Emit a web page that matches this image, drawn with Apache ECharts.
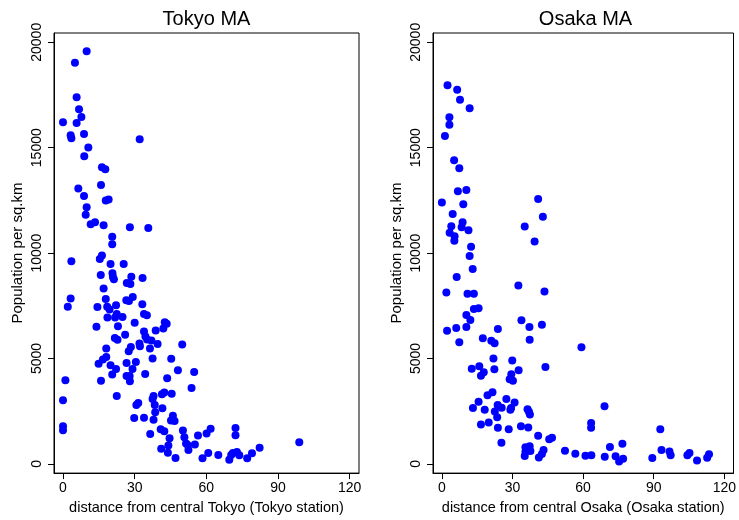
<!DOCTYPE html>
<html><head><meta charset="utf-8">
<script src="https://cdn.jsdelivr.net/npm/echarts@6/dist/echarts.min.js"></script>
<style>html,body{margin:0;padding:0;background:#fff}#c{width:739px;height:520px}</style>
</head><body><div id="c"></div>
<script>
const tokyoDist = [9.9,5.0,5.7,6.7,7.7,0.0,5.7,3.2,3.5,8.8,32.1,10.6,8.9,16.3,17.7,15.9,6.4,8.8,17.9,19.1,9.9,9.5,11.6,13.4,17.0,28.0,35.7,20.6,20.6,15.4,16.3,3.5,19.9,25.4,15.8,20.7,20.9,21.3,28.6,33.3,26.7,28.2,17.0,17.9,26.5,27.6,29.2,33.2,14.4,2.0,3.2,22.2,18.5,19.5,22.5,33.9,35.1,18.6,21.8,24.9,30.0,42.6,43.4,14.0,23.0,42.0,38.8,33.9,34.5,26.0,21.7,22.8,35.2,37.0,32.0,28.4,32.2,39.6,49.9,18.1,36.4,27.5,37.5,45.3,18.1,16.7,14.9,19.9,26.6,30.5,22.2,29.1,20.6,26.6,27.9,34.4,48.1,54.9,1.0,15.9,28.0,43.6,53.8,22.5,0.0,37.9,37.5,41.4,42.4,45.5,38.4,30.7,31.5,41.6,38.6,46.0,45.2,46.7,29.8,33.9,37.9,0.0,0.0,40.9,42.4,50.2,61.8,60.1,72.2,72.2,36.5,50.8,56.5,44.6,51.5,55.2,44.1,52.5,41.1,43.9,47.1,58.4,60.8,65.0,69.6,70.4,71.1,72.8,73.8,77.1,79.1,82.3,98.9,52.3];
const tokyoDens = [19575,19030,17390,16820,16460,16210,16170,15590,15450,15650,15400,15010,14600,14070,13980,13230,13070,12710,12490,12540,12180,11820,11370,11460,11320,11225,11195,10770,10420,9723,9882,9615,9480,9480,8960,9040,8870,8760,8880,8818,8584,8530,8318,7818,7765,7730,7920,7575,7442,7458,7849,7528,7458,7325,7114,7114,7051,6942,6942,6965,6700,6715,6645,6504,6528,6426,6325,6278,6045,6130,5975,5885,5900,5860,5715,5550,5582,5690,5670,5480,5472,5347,5003,4988,5066,4956,4753,4675,4784,4831,4503,4503,4237,4175,4175,4268,4440,4362,3971,3940,3924,4065,3596,3221,3018,3221,3080,3299,3393,3330,2799,2799,2893,2642,2455,2283,2064,2033,2173,2189,2095,1782,1595,1642,1548,1579,1673,1438,1704,1360,1423,1266,1345,1220,969,922,876,657,719,532,281,266,516,422,203,422,516,563,407,266,500,766,1032,890];
const osakaDist = [2.4,6.5,7.7,11.8,3.2,3.2,1.3,5.2,7.4,6.8,10.4,0.0,9.1,40.9,4.6,42.9,8.8,4.0,8.4,35.2,11.3,3.3,5.4,5.3,39.4,12.4,11.8,13.1,6.3,1.9,10.9,13.6,32.5,43.6,13.6,15.6,10.4,12.1,33.8,42.5,37.2,6.1,10.4,23.8,2.2,17.4,37.3,7.4,21.0,22.4,59.3,21.9,29.9,12.7,15.9,22.3,44.0,17.8,16.6,32.6,29.5,28.8,30.2,19.4,21.5,15.6,27.4,30.9,23.7,13.2,18.2,22.5,25.4,29.4,29.1,36.4,37.0,37.4,23.5,69.1,16.6,19.9,23.8,28.4,33.6,36.7,63.4,63.4,40.9,45.6,46.8,25.3,92.8,35.5,37.3,35.5,37.6,35.2,43.2,42.5,41.2,52.3,56.7,61.0,63.5,71.4,76.7,69.2,73.8,75.3,77.0,89.4,93.3,96.7,97.2,104.3,105.2,108.4,112.7,113.5];
const osakaDens = [17964,17746,17277,16870,16448,16088,15557,14400,14025,12930,12992,12398,12320,12570,11851,11726,11460,11273,11226,11257,11085,10960,10804,10585,10553,10303,9860,9240,8865,8130,8068,8068,8458,8177,7348,7380,7067,6832,6817,6598,6489,6442,6489,6400,6317,5960,5894,5769,5848,5725,5535,5003,4909,4510,4628,4487,4597,4346,4180,4440,4253,4018,3940,3252,3400,2950,3080,2916,2799,2650,2564,2486,2665,2658,2570,2596,2470,2345,2212,2736,1868,1970,1712,1642,1790,1728,1939,1720,1336,1166,1244,1001,1642,796,843,578,610,375,657,470,305,625,485,383,407,797,954,344,360,109,250,281,657,594,407,407,516,156,297,453];
const xTicks = [0, 30, 60, 90, 120];
const yTicks = [0, 5000, 10000, 15000, 20000];
const panelTitles = ['Tokyo MA', 'Osaka MA'];
const xNames = ['distance from central Tokyo (Tokyo station)', 'distance from central Osaka (Osaka station)'];
const yName = 'Population per sq.km';

const FONT = '"Liberation Sans", Arial, Helvetica, sans-serif';
const chart = echarts.init(document.getElementById('c'), null, {renderer: 'canvas'});
const grids = [
  {left: 54, top: 33, width: 305, height: 445},
  {left: 433, top: 33, width: 305, height: 445}
];
function pairs(xs, ys) { return xs.map((x, i) => [x, ys[i]]); }
const option = {
  backgroundColor: '#fff',
  animation: false,
  title: panelTitles.map((t, i) => ({
    text: t, left: grids[i].left + grids[i].width / 2, top: 9, textAlign: 'center', padding: 0,
    textStyle: {fontFamily: FONT, fontSize: 20, fontWeight: 'normal', color: '#000'}
  })),
  grid: grids.map(g => Object.assign({show: true, borderColor: '#000', borderWidth: 1, containLabel: false}, g)),
  xAxis: [0, 1].map(i => ({
    type: 'value', gridIndex: i, min: -3.77, max: 123.9,
    name: xNames[i], nameLocation: 'middle', nameGap: 24,
    nameTextStyle: {fontFamily: FONT, fontSize: 14.5, color: '#000'},
    axisLine: {show: true, onZero: false, lineStyle: {color: '#000', width: 1}},
    axisTick: {show: true, length: 6, inside: false, customValues: xTicks, lineStyle: {color: '#000'}},
    axisLabel: {customValues: xTicks, margin: 8, fontFamily: FONT, fontSize: 14, color: '#000', formatter: v => String(v)},
    splitLine: {show: false}
  })),
  yAxis: [0, 1].map(i => ({
    type: 'value', gridIndex: i, min: -436, max: 20441,
    name: yName, nameLocation: 'middle', nameGap: 29,
    nameTextStyle: {fontFamily: FONT, fontSize: 15, color: '#000'},
    axisLine: {show: true, onZero: false, lineStyle: {color: '#000', width: 1}},
    axisTick: {show: true, length: 6, inside: false, customValues: yTicks, lineStyle: {color: '#000'}},
    axisLabel: {customValues: yTicks, rotate: 90, margin: 10, fontFamily: FONT, fontSize: 14, color: '#000', formatter: v => String(v)},
    splitLine: {show: false}
  })),
  series: [
    {type: 'scatter', xAxisIndex: 0, yAxisIndex: 0, data: pairs(tokyoDist, tokyoDens), symbol: 'circle', symbolSize: 8, itemStyle: {color: '#0000ff', opacity: 1}},
    {type: 'scatter', xAxisIndex: 1, yAxisIndex: 1, data: pairs(osakaDist, osakaDens), symbol: 'circle', symbolSize: 8, itemStyle: {color: '#0000ff', opacity: 1}}
  ]
};
chart.setOption(option);
</script>
</body></html>
